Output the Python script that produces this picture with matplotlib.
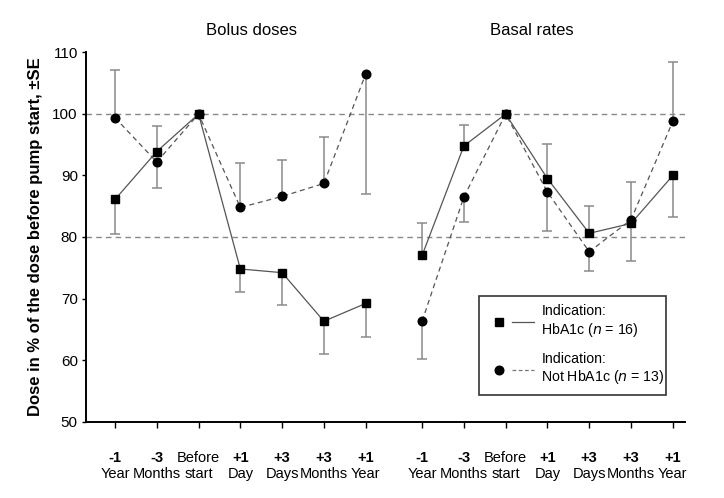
import numpy as np
import matplotlib.pyplot as plt
from matplotlib.legend_handler import HandlerTuple

plt.rcParams['font.family'] = ['Liberation Sans', 'DejaVu Sans']

# time points (top line bold, bottom line normal)
tick_top = ['-1', '-3', 'Before', '+1', '+3', '+3', '+1']
tick_bot = ['Year', 'Months', 'start', 'Day', 'Days', 'Months', 'Year']

# Bolus doses
bolus_hba1c = [86.1, 93.9, 100, 74.8, 74.2, 66.3, 69.2]
bolus_hba1c_se = [80.5, 98.0, np.nan, 71.1, 68.9, 61.0, 63.7]
bolus_not = [99.4, 92.2, 100, 84.8, 86.6, 88.7, 106.5]
bolus_not_se = [107.2, 87.9, np.nan, 92.0, 92.5, 96.2, 87.0]

# Basal rates
basal_hba1c = [77.0, 94.8, 100, 89.5, 80.6, 82.2, 90.0]
basal_hba1c_se = [82.2, 98.2, np.nan, 95.1, 85.1, 76.1, 83.3]
basal_not = [66.3, 86.5, 100, 87.3, 77.6, 82.8, 98.8]
basal_not_se = [60.1, 82.4, np.nan, 81.0, 74.4, 88.9, 108.4]

x_bolus = np.arange(7)
x_basal = np.arange(7) + 7.35

fig = plt.figure(figsize=(7.24, 4.98), dpi=100)
ax = fig.add_axes([0.119, 0.1536, 0.827, 0.741])

ax.axhline(100, color='#888888', lw=1, ls=(0, (4, 3)), zorder=1)
ax.axhline(80, color='#888888', lw=1, ls=(0, (4, 3)), zorder=1)

cap = 0.12
for x, y, e in [(x_bolus, bolus_hba1c, bolus_hba1c_se), (x_bolus, bolus_not, bolus_not_se),
                (x_basal, basal_hba1c, basal_hba1c_se), (x_basal, basal_not, basal_not_se)]:
    y = np.array(y)
    e = np.array(e)
    ok = ~np.isnan(e)
    ax.vlines(x[ok], y[ok], e[ok], color='#8a8a8a', lw=1.1, zorder=2)
    ax.hlines(e[ok], x[ok] - cap, x[ok] + cap, color='#8a8a8a', lw=1.1, zorder=2)

for x, y in [(x_bolus, bolus_hba1c), (x_basal, basal_hba1c)]:
    ax.plot(x, y, color='#555555', lw=0.9, marker='s', ms=5.5, mfc='black', mec='black', zorder=3)
for x, y in [(x_bolus, bolus_not), (x_basal, basal_not)]:
    ax.plot(x, y, color='#555555', lw=0.9, ls=(0, (4, 3)), marker='o', ms=6.2, mfc='black',
            mec='black', zorder=3)

# legend: marker on the left, line sample on the right
m1, = ax.plot([], [], ls='none', marker='s', ms=5.5, mfc='black', mec='black')
l1, = ax.plot([], [], color='#555555', lw=0.9)
m2, = ax.plot([], [], ls='none', marker='o', ms=6.2, mfc='black', mec='black')
l2, = ax.plot([], [], color='#777777', lw=0.9, ls=(0, (3, 2)))
leg = ax.legend([(m1, l1), (m2, l2)],
                ['Indication:\nHbA1c ($n$ = 16)', 'Indication:\nNot HbA1c ($n$ = 13)'],
                handler_map={tuple: HandlerTuple(ndivide=None, pad=0.1)},
                loc='lower left', bbox_to_anchor=(0.656, 0.072, 0.312, 0.259), mode='expand',
                borderaxespad=0, fontsize=10.2, frameon=True, fancybox=False, edgecolor='black',
                handlelength=3.3, handletextpad=0.5, labelspacing=0.9, borderpad=0.6)
leg.get_frame().set_linewidth(1.2)

ax.set_xlim(-0.69, 13.64)
ax.set_ylim(50, 110)
ax.set_yticks([50, 60, 70, 80, 90, 100, 110])
ax.set_xticks(np.concatenate([x_bolus, x_basal]))
ax.set_xticklabels([])
ax.tick_params(axis='y', labelsize=11, length=3, width=1, pad=3)
ax.tick_params(axis='x', length=4, width=1, direction='out')
for s in ['top', 'right']:
    ax.spines[s].set_visible(False)
for s in ['left', 'bottom']:
    ax.spines[s].set_linewidth(1.4)

for xs in [x_bolus, x_basal]:
    for i, xv in enumerate(xs):
        ax.annotate(tick_top[i], (xv, 0), xycoords=('data', 'axes fraction'),
                    xytext=(0, -26.5), textcoords='offset points', ha='center', va='center',
                    fontsize=10.5, fontweight='bold' if i != 2 else 'normal')
        ax.annotate(tick_bot[i], (xv, 0), xycoords=('data', 'axes fraction'),
                    xytext=(0, -37.5), textcoords='offset points', ha='center', va='center',
                    fontsize=10.5)

ax.annotate('Bolus doses', (3.27, 1), xycoords=('data', 'axes fraction'), xytext=(0, 16),
            textcoords='offset points', ha='center', va='center', fontsize=12)
ax.annotate('Basal rates', (9.97, 1), xycoords=('data', 'axes fraction'), xytext=(0, 16),
            textcoords='offset points', ha='center', va='center', fontsize=12)

ax.set_ylabel('Dose in % of the dose before pump start, \u00b1SE', fontsize=12,
              fontweight='bold', labelpad=7)

fig.savefig('out.png', dpi=100)
